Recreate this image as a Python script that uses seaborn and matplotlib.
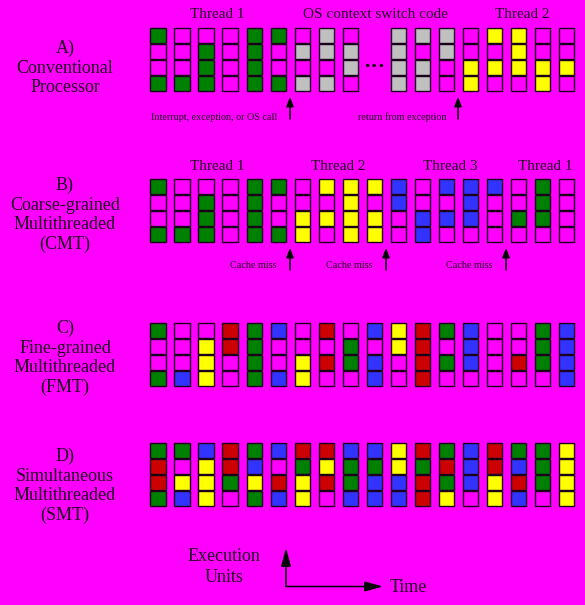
import pandas as pd
import seaborn as sns
import matplotlib.pyplot as plt

# Execution-unit slots per cycle, top to bottom (None = "..." gap)
# G/Y/B/R = threads, S = OS code, M = idle slot
panel_a = ["GMMG", "MMMG", "MGGG", "MMMM", "GGGG", "GMMG", "MSMS", "SSMS", "MSSM", None,
           "SSSS", "SMSS", "SSMM", "MMYY", "YMYM", "YYYM", "MMYY", "MMYM"]
panel_b = ["GMMG", "MMMG", "MGGG", "MMMM", "GGGG", "GMMG", "MMYY", "YMYM", "YYYY", "YMYY",
           "BBMM", "MMBB", "BMBM", "BBBM", "BMMM", "MMGM", "GGGM", "MMMM"]
panel_c = ["GMMG", "MMMB", "MYYY", "RRMM", "GGGG", "BMMB", "MMYY", "RMRM", "MGGM", "BMBB",
           "YYMM", "RRRR", "GMGM", "BBBM", "MMMM", "MMRM", "GGGM", "BBBB"]
panel_d = ["GRRG", "GMYB", "BYYY", "RRGM", "GBYG", "BMRB", "RGYY", "RYRM", "BGGB", "BGBB",
           "YYBB", "RGRR", "GRGY", "BBBM", "RRYY", "GBRB", "GGGM", "YYYY"]

panel_titles = ["A)\nConventional\nProcessor",
                "B)\nCoarse-grained\nMultithreaded\n(CMT)",
                "C)\nFine-grained\nMultithreaded\n(FMT)",
                "D)\nSimultaneous\nMultithreaded\n(SMT)"]

colors = {"G": "#008000", "M": "#FF00FF", "S": "#C0C0C0",
          "Y": "#FFFF00", "B": "#3333FF", "R": "#CC0000"}

BG = "#FF00FF"
INK = "#200020"

sns.set_style("white")
plt.rcParams["font.family"] = ["Liberation Serif", "DejaVu Serif"]

W, H = 585, 605
fig = plt.figure(figsize=(W / 100, H / 100), dpi=100, facecolor=BG)

# overlay in pixel coordinates for labels and arrows
ov = fig.add_axes([0, 0, 1, 1])
ov.set_xlim(0, W)
ov.set_ylim(H, 0)
ov.axis("off")
ov.patch.set_alpha(0)


def to_long(cols):
    rows = []
    for slot, col in enumerate(cols):
        if col is None:
            continue
        for r, unit in enumerate(col):
            rows.append({"slot": slot, "row": r, "unit": unit})
    return pd.DataFrame(rows)


pitch = 24.04
panel_tops = [27.3, 178.5, 322.3, 442.3]
for cols, top in zip([panel_a, panel_b, panel_c, panel_d], panel_tops):
    ax = fig.add_axes([146 / W, 1 - (top + 64) / H, 18 * pitch / W, 64 / H])
    ax.patch.set_alpha(0)
    df = to_long(cols)
    sns.scatterplot(data=df, x="slot", y="row", hue="unit", palette=colors,
                    marker="s", s=122, edgecolor="#1a001a", linewidth=1.0,
                    legend=False, ax=ax, clip_on=False)
    ax.set_xlim(-0.5, 17.5)
    ax.set_ylim(3.5, -0.5)
    ax.axis("off")
    if cols is panel_a:
        ax.text(9, 2.0, "\u00b7\u00b7\u00b7", ha="center", va="center",
                fontsize=16, fontweight="bold", color="black")

# left labels
for title, y in zip(panel_titles, [68, 215, 358, 486]):
    ov.text(65, y, title, ha="center", va="center", fontsize=13,
            color=INK, linespacing=1.2)

# thread headings
for txt, x, y in [("Thread 1", 217, 14), ("OS context switch code", 375, 14),
                  ("Thread 2", 522, 14), ("Thread 1", 217, 166),
                  ("Thread 2", 338, 166), ("Thread 3", 450, 166),
                  ("Thread 1", 545, 166)]:
    ov.text(x, y, txt, ha="center", va="center", fontsize=11, color=INK)

small_arrow = dict(arrowstyle="-|>,head_width=0.22,head_length=0.55",
                   color="black", lw=1.1, shrinkA=0, shrinkB=0)

# panel A events
ov.text(214, 117, "Interrupt, exception, or OS call", ha="center", va="center",
        fontsize=7.3, color=INK)
ov.text(402, 117, "return from exception", ha="center", va="center",
        fontsize=7.3, color=INK)
for x in [290, 458]:
    ov.annotate("", xy=(x, 97), xytext=(x, 119), arrowprops=small_arrow)

# panel B cache misses
for tx, x in [(253, 290), (349, 386), (469, 506)]:
    ov.text(tx, 265, "Cache miss", ha="center", va="center", fontsize=7.3, color=INK)
    ov.annotate("", xy=(x, 248), xytext=(x, 270), arrowprops=small_arrow)

# axes legend at the bottom
big_arrow = dict(arrowstyle="-|>,head_width=0.3,head_length=1.1",
                 color="black", lw=1.1, shrinkA=0, shrinkB=0)
ov.annotate("", xy=(286, 548), xytext=(286, 586.5), arrowprops=big_arrow)
ov.annotate("", xy=(383, 586.5), xytext=(286, 586.5), arrowprops=big_arrow)
ov.text(224, 567, "Execution\nUnits", ha="center", va="center", fontsize=13,
        color=INK, linespacing=1.25)
ov.text(390, 587, "Time", ha="left", va="center", fontsize=13, color=INK)

fig.savefig("out.png", dpi=100, facecolor=BG)
